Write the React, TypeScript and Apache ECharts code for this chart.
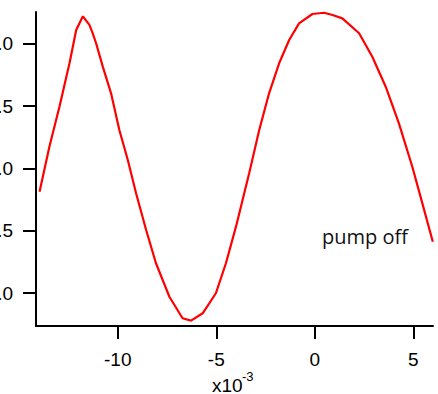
import React, { useEffect, useRef } from "react";
import * as echarts from "echarts";

const xValues = [
  -13.97, -13.47, -12.96, -12.45, -12.11, -11.77, -11.44, -11.27, -11.1, -10.76,
  -10.34, -9.92, -9.49, -9.07, -8.56, -8.06, -7.38, -6.71, -6.28, -5.69,
  -5.02, -4.51, -4.0, -3.33, -2.82, -2.32, -1.81, -1.3, -0.8, -0.12,
  0.47, 0.9, 1.4, 2.25, 2.92, 3.6, 4.27, 4.95, 5.46, 5.99,
];
const yValues = [
  -0.186, 0.175, 0.496, 0.845, 1.112, 1.222, 1.153, 1.086, 1.006, 0.818,
  0.604, 0.309, 0.068, -0.199, -0.494, -0.761, -1.03, -1.203, -1.222, -1.163,
  -1.002, -0.761, -0.467, -0.039, 0.309, 0.604, 0.845, 1.032, 1.166, 1.241,
  1.251, 1.233, 1.206, 1.086, 0.898, 0.657, 0.363, 0.014, -0.28, -0.588,
];
const xTicks = [-10, -5, 0, 5];
const yTicks = [-1, -0.5, 0, 0.5, 1];
const annotation = "pump off";
const xUnitBase = "x10";
const xUnitExp = "-3";

export default function App() {
  const ref = useRef<HTMLDivElement>(null);
  useEffect(() => {
    if (!ref.current) return;
    const chart = echarts.init(ref.current, null, { renderer: "svg" });
    const font = "'Liberation Sans', Arial, sans-serif";
    chart.setOption({
      animation: false,
      backgroundColor: "#ffffff",
      grid: { left: 36, right: 5, top: 12, bottom: 68, containLabel: false, outerBoundsMode: "none" },
      xAxis: {
        type: "value",
        min: -14.15,
        max: 6.0,
        axisLine: { show: true, onZero: false, lineStyle: { color: "#000", width: 2 } },
        axisTick: { show: true, length: 13, lineStyle: { color: "#000", width: 2 }, customValues: xTicks },
        axisLabel: {
          customValues: xTicks,
          fontSize: 19,
          color: "#000",
          fontFamily: font,
          margin: 24,
          formatter: (v: number) => String(v),
        },
        splitLine: { show: false },
      },
      yAxis: {
        type: "value",
        min: -1.265,
        max: 1.257,
        axisLine: { show: true, onZero: false, lineStyle: { color: "#000", width: 2 } },
        axisTick: { show: true, length: 13, lineStyle: { color: "#000", width: 2 }, customValues: yTicks },
        axisLabel: {
          customValues: yTicks,
          fontSize: 19,
          color: "#000",
          fontFamily: font,
          margin: 23,
          formatter: (v: number) => v.toFixed(1),
        },
        splitLine: { show: false },
      },
      series: [
        {
          type: "line",
          data: xValues.map((x, i) => [x, yValues[i]]),
          showSymbol: false,
          symbol: "none",
          lineStyle: { color: "#ff0000", width: 2.2 },
          clip: false,
        },
      ],
      graphic: [
        {
          type: "text",
          left: 322,
          top: 226,
          style: { text: annotation, font: "20px 'Open Sans', sans-serif", fill: "#111" },
        },
        {
          type: "text",
          x: 212,
          y: 385,
          style: { text: xUnitBase, font: `19px ${font}`, fill: "#000", verticalAlign: "middle", align: "left" },
        },
        {
          type: "text",
          x: 242,
          y: 376,
          style: { text: xUnitExp, font: `13px ${font}`, fill: "#000", verticalAlign: "middle", align: "left" },
        },
      ],
    });
    return () => chart.dispose();
  }, []);
  return (
    <div
      ref={ref}
      style={{ position: "absolute", left: 0, top: 0, width: 438, height: 394 }}
    />
  );
}
